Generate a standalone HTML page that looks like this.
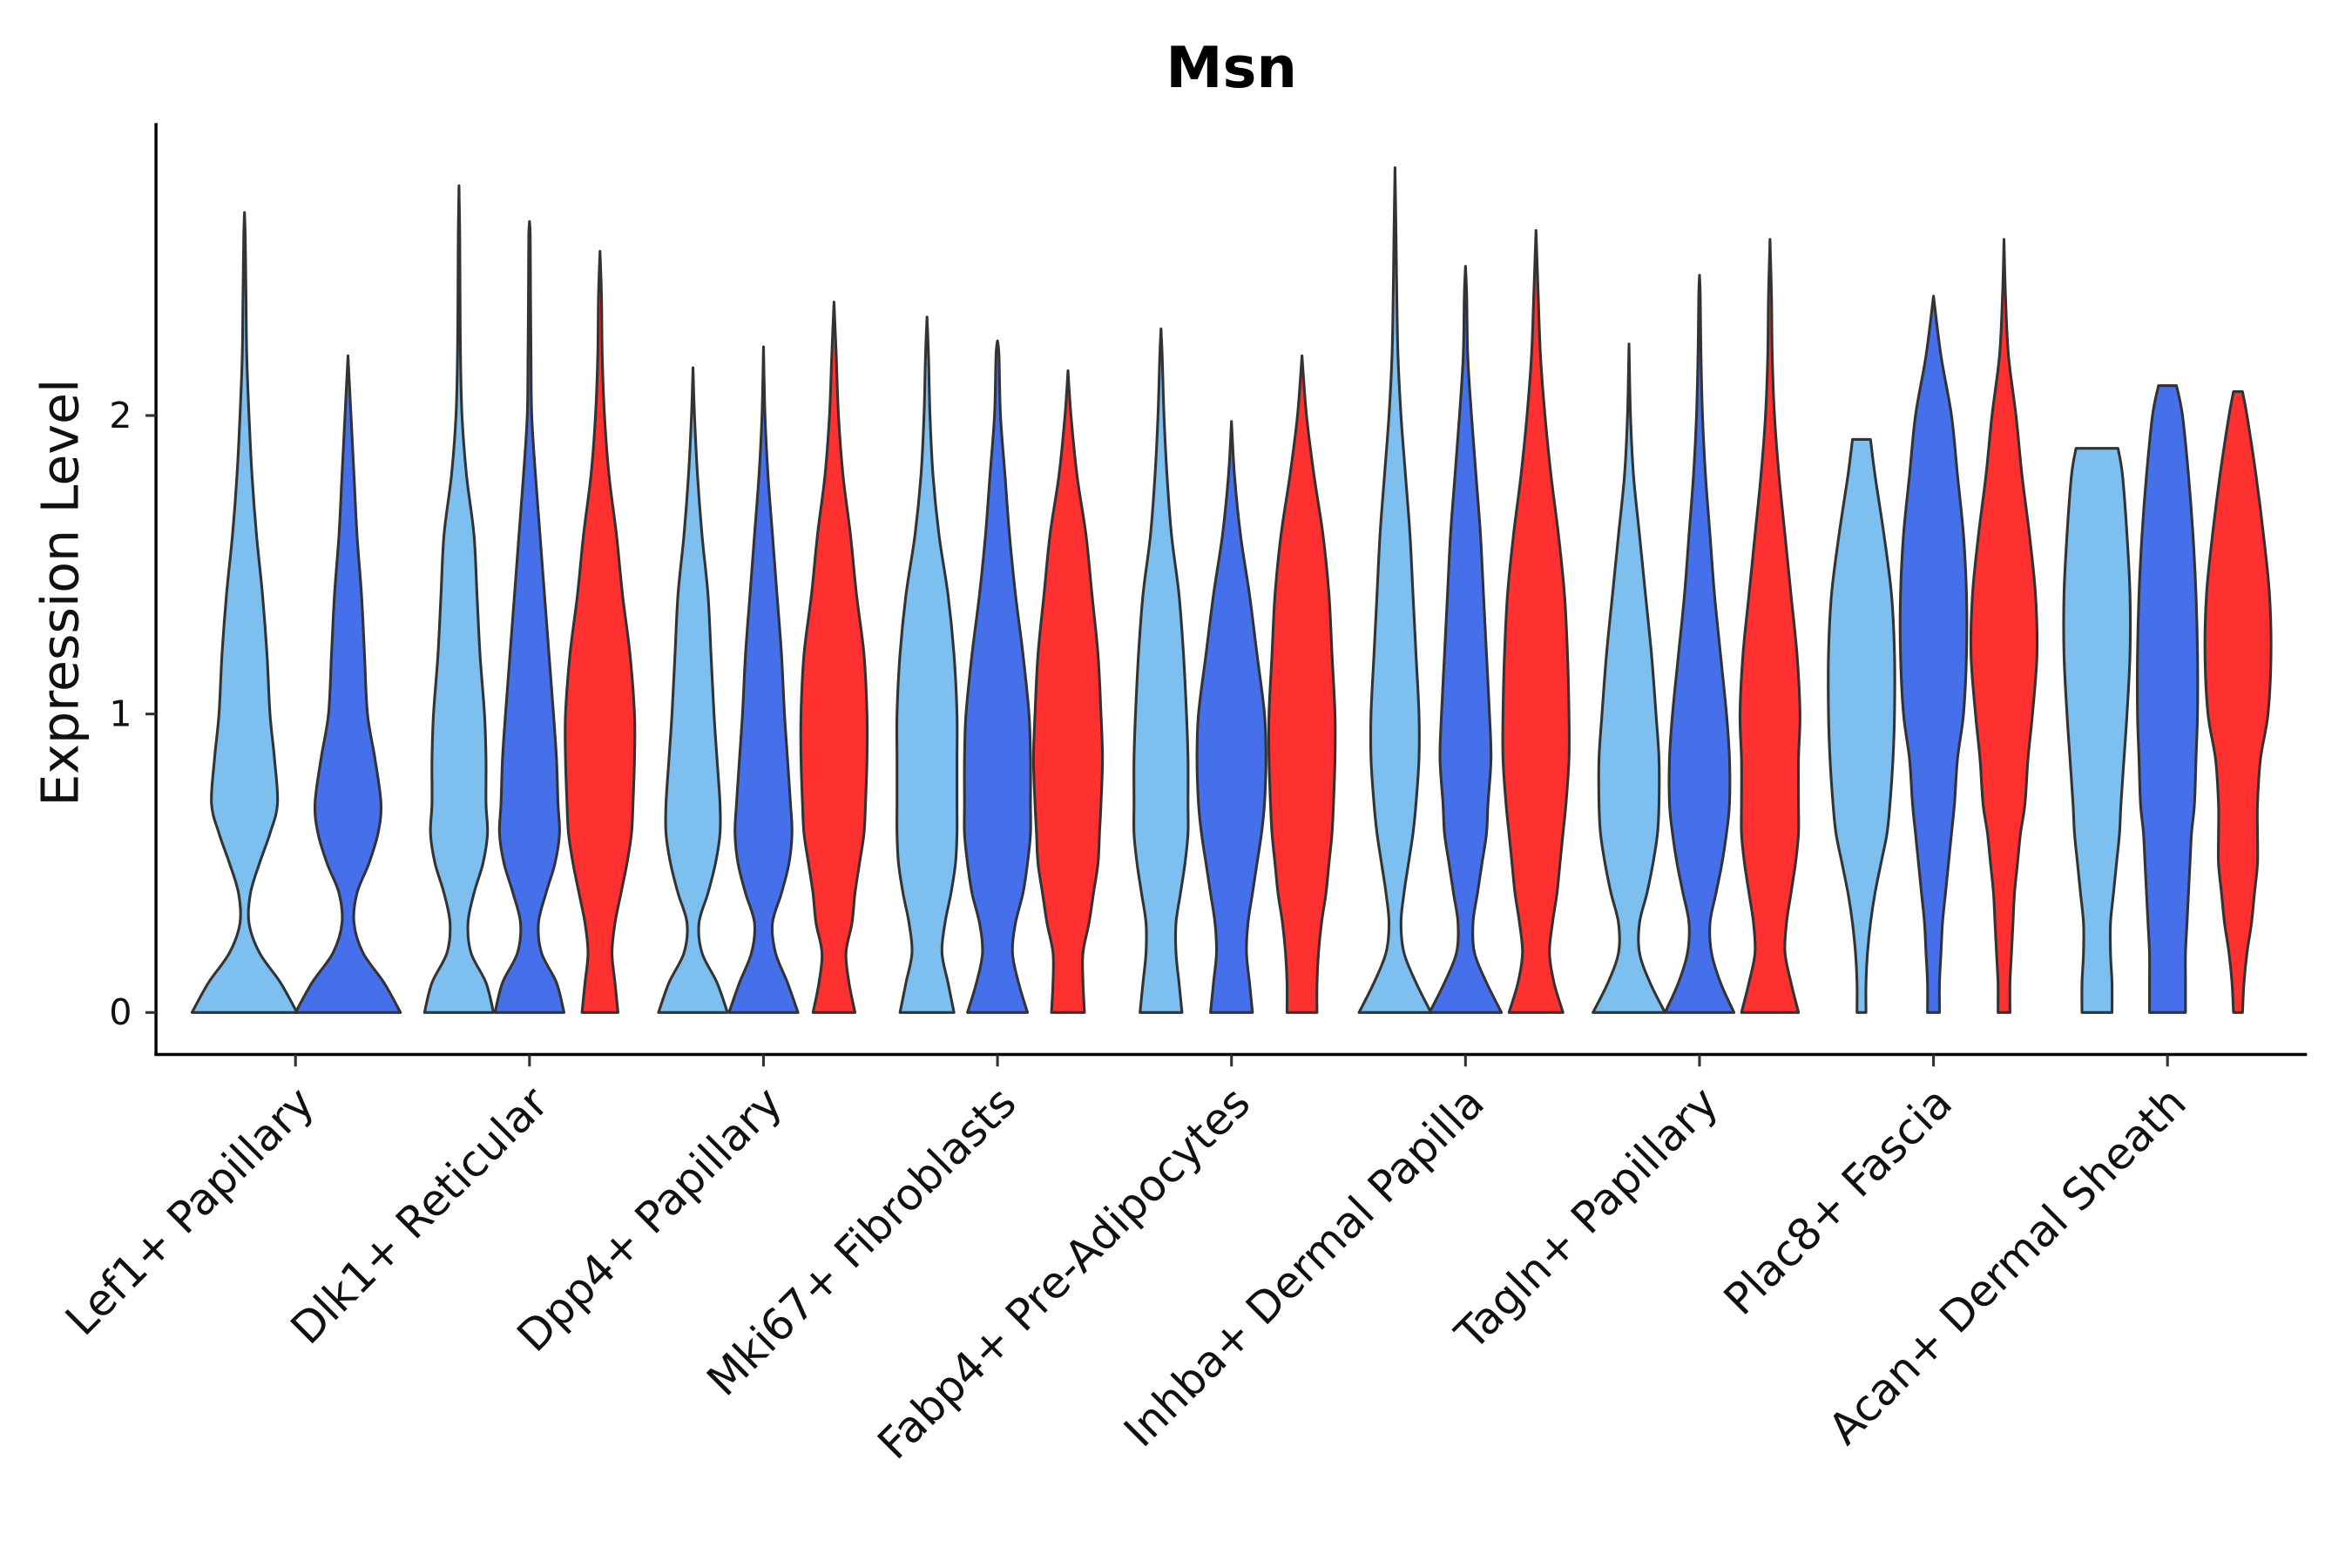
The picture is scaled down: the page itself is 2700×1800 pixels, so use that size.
<!DOCTYPE html>
<html><head><meta charset="utf-8"><style>
html,body{margin:0;padding:0;background:#fff}
svg{display:block;font-family:"DejaVu Sans","Liberation Sans",sans-serif}
</style></head><body>
<svg id="chart" width="2700" height="1800" viewBox="0 0 1568 1045.33" xmlns="http://www.w3.org/2000/svg">
<rect width="1568" height="1046" fill="#fff"/>
<text x="821" y="58" text-anchor="middle" font-size="38" font-weight="bold">Msn</text>
<g id="violins"></g>
<g id="axes"></g>
</svg>
<script>
const categories = ["Lef1+ Papillary","Dlk1+ Reticular","Dpp4+ Papillary","Mki67+ Fibroblasts","Fabp4+ Pre-Adipocytes","Inhba+ Dermal Papilla","Tagln+ Papillary","Plac8+ Fascia","Acan+ Dermal Sheath"];
const yTicks = [0,1,2];
const levels = [0,0.1,0.2,0.3,0.4,0.5,0.6,0.7,0.85,1.0,1.2,1.4,1.6,1.8,2.0,2.2,2.4,2.6];
const groupColors = ["#7dbfee","#4570ea","#ff3030"];
const violinCat = [0,0,1,1,1,2,2,2,3,3,3,4,4,4,5,5,5,6,6,6,7,7,7,8,8,8];
const violinGroup = [0,1,0,1,2,0,1,2,0,1,2,0,1,2,0,1,2,0,1,2,0,1,2,0,1,2];
const violinOffset = [-34,35,-47,0,47,-47,0,47,-47,0,47,-47,0,47,-47,0,47,-47,0,47,-48,0,47,-47,0,47];
const violinMax = [2.68,2.2,2.77,2.65,2.55,2.16,2.23,2.38,2.33,2.25,2.15,2.29,1.98,2.2,2.83,2.5,2.62,2.24,2.47,2.59,1.92,2.4,2.59,1.89,2.1,2.08];
const violinTopW = [0,0,0,0,0,0,0,0,0,0,0,0,0,0,0,0,0,0,0,0,6,0,0,14,6,3];
const violinDens = [
[35,24,10,3,4,10,17,22,20,17,15,12,8,5,3,1.5,1,0.5],
[35,24,10,4,6,14,20,22,18,13,11,9,6,4,2,0.5],
[23,18,8,6,10,16,19,18,18,17,14,12,10,5,2,1,0.7,0.5],
[23,18,8,6,11,17,20,19,18,16,13,10,7,4,1.5,1,0.7,0.5],
[12,10,8,10,14,18,21,22,23,23,20,15,11,6,3,1.5,1,0.5],
[23,16,6,4,10,15,18,18,16,14,12,10,6,3,1,0.5],
[23,16,8,6,12,17,19,18,16,14,12,9,6,3,1,0.5],
[14,10,8,12,14,17,20,21,22,22,20,15,11,6,3,1.5,0.5],
[18,14,10,12,16,19,20,20,20,20,18,14,8,4,2,1,0.5],
[20,14,10,12,17,20,22,22,22,21,17,12,8,5,2,1],
[11,10,10,14,17,20,21,22,23,22,20,16,12,6,2,0.8],
[14,12,10,10,13,16,18,18,18,17,15,12,7,4,2,0.8],
[14,12,10,11,14,17,20,22,23,22,17,12,6,2,0.5],
[10,10,11,13,16,18,20,21,22,22,20,18,14,8,3,1],
[24,14,6,4,6,9,12,14,16,16,14,12,10,7,4,2,1.2,0.7],
[24,14,6,5,8,11,14,15,17,16,14,12,10,7,4,1.5,0.8],
[18,12,9,11,14,16,18,20,22,22,21,19,15,10,6,3,1.5,0.5],
[24,14,7,7,12,16,19,20,20,18,15,11,7,3,1],
[23,14,8,7,11,15,18,20,20,18,14,10,7,4,2,1,0.5],
[19,14,10,11,14,17,19,19,19,20,18,14,10,6,3,1.5,1,0.5],
[3,3,4,6,9,13,17,19,21,22,22,20,15,9],
[4,4,5,6,8,10,12,14,16,20,22,22,20,16,12,5,1],
[4,4,5,6,7,9,11,14,16,19,22,21,17,12,8,3,1,0.5],
[10,10,9,9,11,13,15,16,18,20,22,22,20,17],
[12,12,12,13,14,15,16,18,19,20,20,19,17,14,10],
[3,4,6,9,11,13,13,13,15,20,22,21,17,12,6]
];
const NS="http://www.w3.org/2000/svg";
const x0=197, xStep=156;
function xScale(i){return x0+i*xStep;}
function yScale(v){return 675-199*v;}
function crPath(pts){
  let d="";
  for(let i=0;i<pts.length-1;i++){
    const p0=pts[Math.max(0,i-1)],p1=pts[i],p2=pts[i+1],p3=pts[Math.min(pts.length-1,i+2)];
    const c1=[p1[0]+(p2[0]-p0[0])/6,p1[1]+(p2[1]-p0[1])/6];
    const c2=[p2[0]-(p3[0]-p1[0])/6,p2[1]-(p3[1]-p1[1])/6];
    d+=` C${c1[0].toFixed(2)},${c1[1].toFixed(2)} ${c2[0].toFixed(2)},${c2[1].toFixed(2)} ${p2[0].toFixed(2)},${p2[1].toFixed(2)}`;
  }
  return d;
}
const vg=document.getElementById('violins');
for(let k=0;k<violinCat.length;k++){
  const cx=xScale(violinCat[k])+violinOffset[k];
  const mx=violinMax[k], dens=violinDens[k];
  const prof=[];
  for(let j=0;j<levels.length&&j<dens.length;j++){ if(levels[j]<mx-0.03) prof.push([levels[j],dens[j]]); }
  prof.push([mx,violinTopW[k]]);
  const right=prof.map(p=>[cx+p[1],yScale(p[0])]);
  const left=prof.slice().reverse().map(p=>[cx-p[1],yScale(p[0])]);
  let d=`M${right[0][0]},${right[0][1]}`+crPath(right)+` L${left[0][0]},${left[0][1]}`+crPath(left)+" Z";
  const path=document.createElementNS(NS,'path');
  path.setAttribute('d',d);
  path.setAttribute('fill',groupColors[violinGroup[k]]);
  path.setAttribute('stroke','#333');
  path.setAttribute('stroke-width','1.8');
  path.setAttribute('stroke-linejoin','round');
  
  
  vg.appendChild(path);
}
const ag=document.getElementById('axes');
function el(tag,attrs,txt){const e=document.createElementNS(NS,tag);for(const a in attrs)e.setAttribute(a,attrs[a]);if(txt!==undefined)e.textContent=txt;ag.appendChild(e);return e;}
const ya=el('line',{x1:104,y1:82,x2:104,y2:703.5,stroke:'#000','stroke-width':2});


const xa=el('line',{x1:103,y1:703,x2:1538,y2:703,stroke:'#000','stroke-width':2});


yTicks.forEach(t=>{
  const y=yScale(t);
  const tl=el('line',{x1:97,y1:y,x2:104,y2:y,stroke:'#333','stroke-width':1.8});
  
  
  const tx=el('text',{x:88,y:y+8,'text-anchor':'end','font-size':24,fill:'#111'},String(t));
  
  
});
categories.forEach((c,i)=>{
  const x=xScale(i);
  const tl=el('line',{x1:x,y1:703,x2:x,y2:711,stroke:'#333','stroke-width':1.8});
  
  
  const ax=x+14, ay=737;
  const tx=el('text',{x:ax,y:ay,'text-anchor':'end','font-size':29,fill:'#111',transform:`rotate(-45 ${ax} ${ay})`},c);
  
  
});
const yt=el('text',{x:52,y:395,'text-anchor':'middle','font-size':34,fill:'#111',transform:'rotate(-90 52 395)'},'Expression Level');


</script>
</body></html>
